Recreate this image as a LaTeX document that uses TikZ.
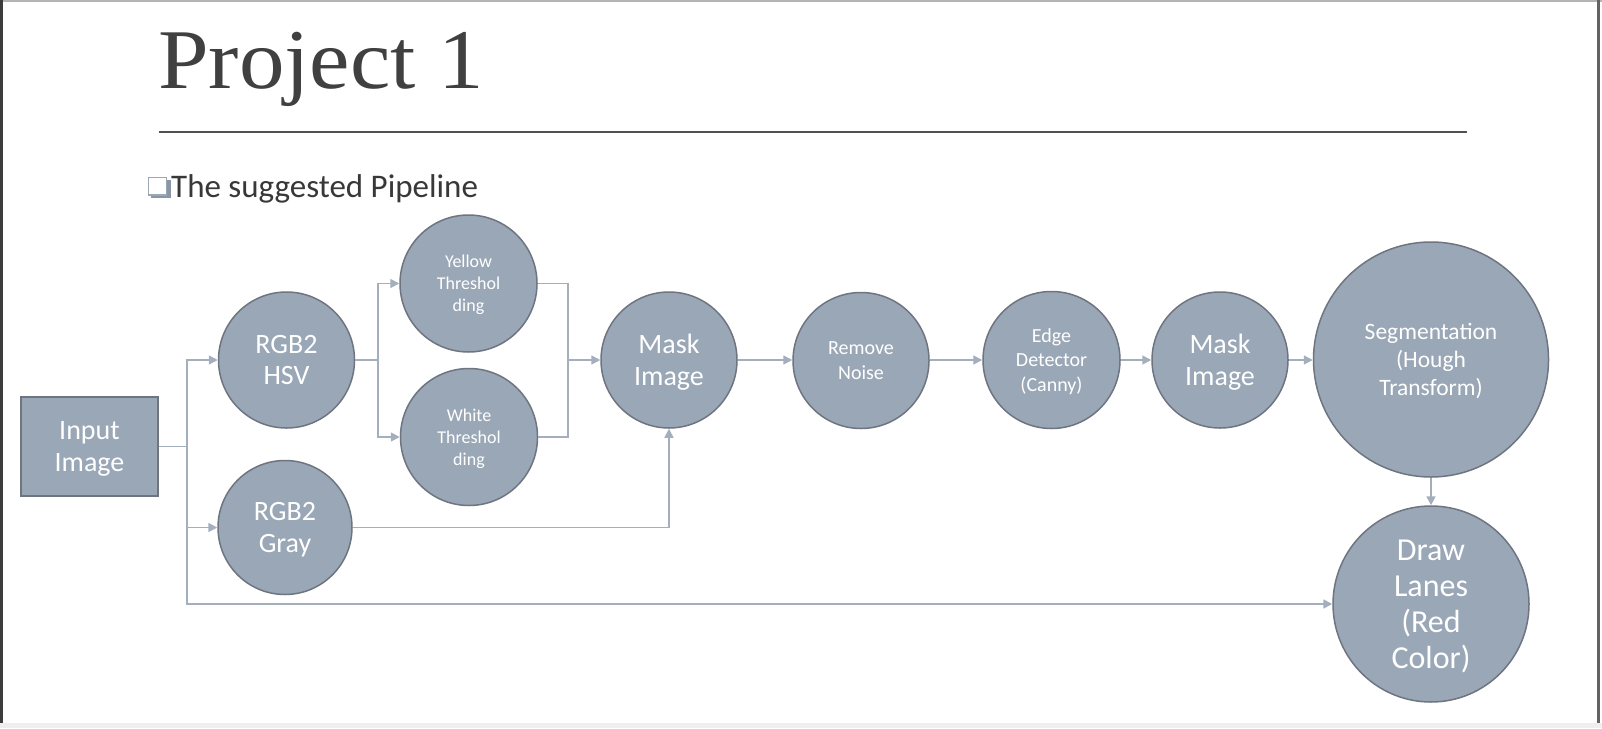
\documentclass[tikz,border=0pt]{standalone}
\usepackage{fontspec}
\setmainfont{Liberation Serif}
\newfontfamily\nodefont{Carlito}
\usetikzlibrary{arrows.meta}
\definecolor{nfill}{HTML}{9AA7B6}
\definecolor{nedge}{HTML}{6E7581}
\definecolor{cconn}{HTML}{A4AFBE}
\definecolor{titlec}{HTML}{404040}
\definecolor{rulec}{HTML}{505050}
\definecolor{bodyc}{HTML}{383838}
\definecolor{framel}{HTML}{3C3C3C}
\definecolor{framet}{HTML}{B4B4B4}
\definecolor{frameb}{HTML}{EFEFEF}
\definecolor{bshadow}{HTML}{8A96A6}
\newcommand\myfs[2]{\fontsize{#1}{#2}\selectfont}
\begin{document}
\begin{tikzpicture}[x=1pt,y=-1pt,
  box/.style={draw=nedge, fill=nfill, line width=1.5pt, text=white, align=center, inner sep=0pt, text depth=0pt},
  circ/.style={box, circle, minimum size=#1},
  big/.style={font=\nodefont\myfs{28}{31.5}},
  small/.style={font=\nodefont\myfs{18}{22}},
  mid/.style={font=\nodefont\myfs{20}{24.5}},
  conn/.style={draw=cconn, line width=1.6pt},
  arr/.style={conn, -{Triangle[length=9pt,width=9pt]}}]
\useasboundingbox (0,0) rectangle (1602,728);
% frame
\fill[white] (0,0) rectangle (1602,728);
\fill[framet] (0,0) rectangle (1602,1.5);
\fill[framel] (0,0) rectangle (3,728);
\fill[frameb] (0,723) rectangle (1602,728);
\fill[framel!80] (1597,0) rectangle (1599.5,723);
% title
\node[anchor=base west, inner sep=0pt, text=titlec, font=\myfs{85}{90}] (title) at (158,88) {\scalebox{1.07}[1]{Project 1}};
\draw[line width=1.3pt, rulec] (159,132) -- (1467,132);
% bullet
\fill[bshadow] (151,180) rectangle (170.5,198);
\draw[fill=white, draw=nfill, line width=1.4pt] (148.5,177.5) rectangle (166.5,195);
\node[anchor=base west, inner sep=0pt, text=bodyc, font=\nodefont\myfs{33}{36}] (sub) at (171,197) {The suggested Pipeline};
% nodes
\node[box, big, minimum width=137pt, minimum height=99pt] (in) at (89.5,446.5) {Input\\Image};
\node[circ=136pt, big] (hsv) at (286.5,360) {RGB2\\HSV};
\node[circ=134pt, big] (gray) at (285,527.5) {RGB2\\Gray};
\node[circ=137pt, small] (yel) at (468.5,283.5) {Yellow\\Threshol\\ding};
\node[circ=137pt, small] (wht) at (469,437) {White\\Threshol\\ding};
\node[circ=136pt, big] (mask1) at (669,360) {Mask\\Image};
\node[circ=136pt, mid] (noise) at (861,360.5) {Remove\\Noise};
\node[circ=137pt, mid] (edge) at (1051.5,360) {Edge\\Detector\\(Canny)};
\node[circ=136pt, big] (mask2) at (1220,360) {Mask\\Image};
\node[circ=235pt, font=\nodefont\myfs{23.5}{28}] (seg) at (1431,359.5) {Segmentation\\(Hough\\Transform)};
\node[circ=196pt, font=\nodefont\myfs{32}{36}] (lanes) at (1431,604) {Draw\\Lanes\\(Red\\Color)};
% junctions
\coordinate (j1) at (187,446.5);
\coordinate (j2) at (378,360);
\coordinate (j3) at (568,360);
% connectors
\draw[conn] (in.east) -- (j1);
\draw[arr] (j1) |- (hsv.west);
\draw[arr] (j1) |- (gray.west);
\draw[arr] (j1) |- (lanes.west);
\draw[conn] (hsv.east) -- (j2);
\draw[arr] (j2) |- (yel.west);
\draw[arr] (j2) |- (wht.west);
\draw[conn] (yel.east) -| (j3);
\draw[conn] (wht.east) -| (j3);
\draw[arr] (j3) -- (mask1.west);
\draw[arr] (gray.east) -| (mask1.south);
\draw[arr] (mask1.east) -- (noise.west |- mask1.east);
\draw[arr] (noise.east |- mask1.east) -- (edge.west);
\draw[arr] (edge.east) -- (mask2.west);
\draw[arr] (mask2.east) -- (seg.west |- mask2.east);
\draw[arr] (seg.south) -- (lanes.north);
\end{tikzpicture}
\end{document}
